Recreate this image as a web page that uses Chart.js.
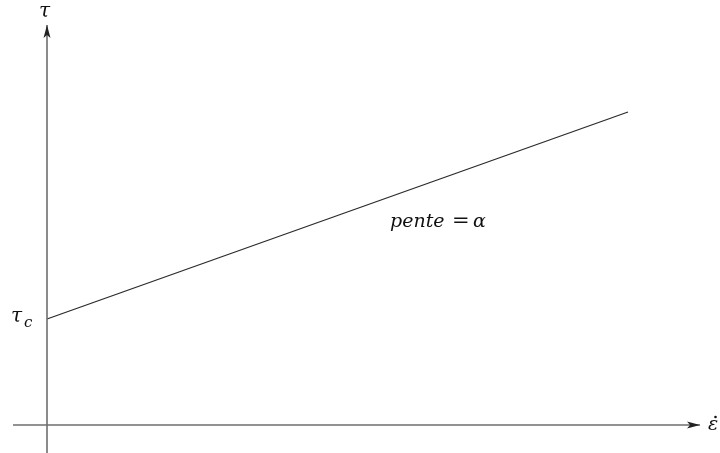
<!DOCTYPE html>
<html>
<head>
<meta charset="utf-8">
<script src="https://cdn.jsdelivr.net/npm/chart.js@4"></script>
<style>
  html, body { margin: 0; padding: 0; background: #ffffff; }
  #wrap { width: 720px; height: 453px; }
</style>
</head>
<body>
<div id="wrap"><canvas id="c" width="720" height="453"></canvas></div>
<script>
// Strain rate (x) and shear stress (y), arbitrary units
const strainRate = [0, 5.81];
const stress = [1.06, 3.13];
const tauC = 1.06;

// Axis extents (arrow tips at the far ends)
const xAxisX = [-0.34, 6.53];
const xAxisY = [0, 0];
const yAxisX = [0, 0];
const yAxisY = [-0.28, 4.0];

// Text labels
const labelTau = 'τ';
const labelTauCSub = 'c';
const labelEps = 'ε';
const labelSlopeWord = 'pente';
const labelSlopeEq = '=';
const labelSlopeSym = 'α';

const axisColor = '#6e6e6e';
const lineColor = '#2a2a2a';

const toPts = (xs, ys) => xs.map((x, i) => ({ x: x, y: ys[i] }));

const serifItalic = size => `italic ${size}px "DejaVu Serif", "Liberation Serif", serif`;

const annotate = {
  id: 'annotate',
  afterDatasetsDraw(chart) {
    const ctx = chart.ctx;
    const xs = chart.scales.x, ys = chart.scales.y;
    const px = v => xs.getPixelForValue(v);
    const py = v => ys.getPixelForValue(v);

    ctx.save();
    // arrowheads
    ctx.fillStyle = '#222';
    const tx = px(xAxisX[1]), ty = py(xAxisY[1]);
    ctx.beginPath();
    ctx.moveTo(tx, ty);
    ctx.lineTo(tx - 13, ty - 3.5);
    ctx.lineTo(tx - 10, ty);
    ctx.lineTo(tx - 13, ty + 3.5);
    ctx.closePath();
    ctx.fill();
    const ux = px(yAxisX[1]), uy = py(yAxisY[1]);
    ctx.beginPath();
    ctx.moveTo(ux, uy);
    ctx.lineTo(ux - 3.5, uy + 13);
    ctx.lineTo(ux, uy + 10);
    ctx.lineTo(ux + 3.5, uy + 13);
    ctx.closePath();
    ctx.fill();

    // labels
    ctx.fillStyle = '#111';
    ctx.textBaseline = 'alphabetic';
    ctx.textAlign = 'left';

    ctx.font = serifItalic(20);
    ctx.fillText(labelTau, ux - 8, 17);

    const cy = py(tauC);
    ctx.fillText(labelTau, 11, cy + 3);
    ctx.font = serifItalic(15);
    ctx.fillText(labelTauCSub, 24, cy + 8);

    ctx.font = serifItalic(19);
    ctx.fillText(labelEps, 708, ty + 5);
    ctx.beginPath();
    ctx.arc(715.5, ty - 8, 1.3, 0, Math.PI * 2);
    ctx.fill();

    ctx.font = serifItalic(19);
    ctx.fillText(labelSlopeWord, 390, 227);
    ctx.font = '21px "DejaVu Serif", "Liberation Serif", serif';
    ctx.fillText(labelSlopeEq, 452, 227);
    ctx.font = serifItalic(19);
    ctx.fillText(labelSlopeSym, 473, 227);
    ctx.restore();
  }
};

new Chart(document.getElementById('c'), {
  type: 'scatter',
  data: {
    datasets: [
      { data: toPts(xAxisX, xAxisY), showLine: true, borderColor: axisColor, borderWidth: 1.6, pointRadius: 0 },
      { data: toPts(yAxisX, yAxisY), showLine: true, borderColor: axisColor, borderWidth: 1.6, pointRadius: 0 },
      { data: toPts(strainRate, stress), showLine: true, borderColor: lineColor, borderWidth: 1.3, pointRadius: 0 }
    ]
  },
  options: {
    responsive: false,
    animation: false,
    devicePixelRatio: 1,
    layout: { padding: 0 },
    plugins: { legend: { display: false }, tooltip: { enabled: false } },
    scales: {
      x: { type: 'linear', display: false, min: -0.47, max: 6.73 },
      y: { type: 'linear', display: false, min: -0.28, max: 4.25 }
    }
  },
  plugins: [annotate]
});
</script>
</body>
</html>
